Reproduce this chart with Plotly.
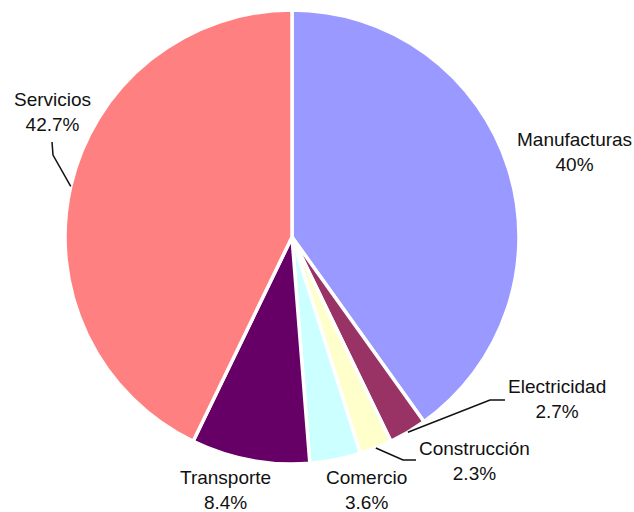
import math
import plotly.graph_objects as go

# Sector shares
sectors = ["Manufacturas", "Electricidad", "Construcción", "Comercio", "Transporte", "Servicios"]
shares = [40, 2.7, 2.3, 3.6, 8.4, 42.7]
colors = ["#9999FF", "#993366", "#FFFFCC", "#CCFFFF", "#660066", "#FF8080"]

W, H = 634, 512
CX, CY, R = 292, 237, 227  # pie centre and radius in pixels

# Label centres (pixels) and optional leader-line elbow/end points
label_pos = {
    "Manufacturas": (574, 152),
    "Electricidad": (557, 399),
    "Construcción": (474, 461),
    "Comercio": (367, 490),
    "Transporte": (225, 490),
    "Servicios": (53, 112),
}
leaders = {
    "Electricidad": [(490, 400), (505, 400)],
    "Construcción": [(403, 460), (416, 460)],
    "Servicios": [(53, 155), (52, 142)],
}


def px(x, y):
    return x / W, 1 - y / H


fig = go.Figure(
    go.Pie(
        labels=sectors,
        values=shares,
        sort=False,
        direction="clockwise",
        rotation=0,
        marker=dict(colors=colors, line=dict(color="white", width=3.5)),
        textinfo="none",
        hoverinfo="label+percent",
        domain=dict(
            x=[(CX - R) / W, (CX + R) / W],
            y=[1 - (CY + R) / H, 1 - (CY - R) / H],
        ),
    )
)

total = sum(shares)
cum = 0.0
annotations = []
shapes = []
for name, v in zip(sectors, shares):
    mid = (cum + v / 2) / total * 2 * math.pi
    cum += v
    lx, ly = label_pos[name]
    ax_, ay_ = px(lx, ly)
    annotations.append(
        dict(
            x=ax_, y=ay_, xref="paper", yref="paper",
            text=f"{name}<br>{v:g}%",
            showarrow=False,
            font=dict(family="Liberation Sans, Arial, sans-serif", size=19, color="#111111"),
            align="center", xanchor="center", yanchor="middle",
        )
    )
    if name in leaders:
        sx = CX + R * math.sin(mid)
        sy = CY - R * math.cos(mid)
        pts = [(sx, sy)] + leaders[name]
        path = ""
        for i, (x, y) in enumerate(pts):
            u, w = px(x, y)
            path += ("M" if i == 0 else " L") + f" {u:.5f} {w:.5f}"
        shapes.append(
            dict(type="path", path=path, xref="paper", yref="paper",
                 line=dict(color="#111111", width=1.5))
        )

fig.update_layout(
    width=W, height=H,
    margin=dict(l=0, r=0, t=0, b=0),
    paper_bgcolor="white",
    plot_bgcolor="white",
    showlegend=False,
    annotations=annotations,
    shapes=shapes,
)

fig.write_html("out.html")
